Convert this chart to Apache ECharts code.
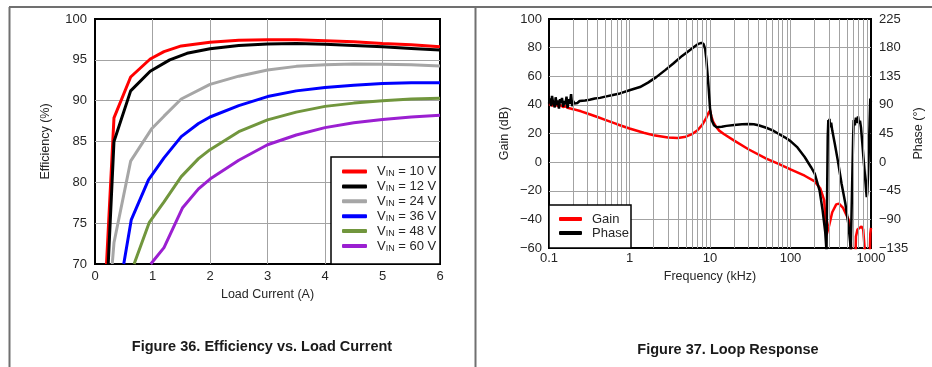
<!DOCTYPE html>
<html>
<head>
<meta charset="utf-8">
<script src="https://cdn.jsdelivr.net/npm/echarts@6/dist/echarts.min.js"></script>
<style>
html,body{margin:0;padding:0;background:#fff;}
#c{width:932px;height:367px;}
</style>
</head>
<body>
<div id="c"></div>
<script>
// ---------- Figure 36: Efficiency vs Load Current ----------
const effXTicks = [0, 1, 2, 3, 4, 5, 6];
const effYTicks = [70, 75, 80, 85, 90, 95, 100];
const vinNames = ['10 V', '12 V', '24 V', '36 V', '48 V', '60 V'];
const vinColors = ['#ff0000', '#000000', '#a6a6a6', '#0000ff', '#71963d', '#9b1fd1'];

const cur10 = [0.20, 0.33, 0.62, 0.96, 1.2, 1.5, 2.0, 2.5, 3.0, 3.5, 4.0, 4.5, 5.0, 5.5, 6.0];
const eff10 = [70, 87.9, 92.9, 95.1, 96.0, 96.7, 97.15, 97.4, 97.45, 97.45, 97.35, 97.2, 97.0, 96.85, 96.6];
const cur12 = [0.23, 0.33, 0.62, 0.96, 1.3, 1.6, 2.0, 2.5, 3.0, 3.5, 4.0, 4.5, 5.0, 5.5, 6.0];
const eff12 = [70, 85.0, 91.2, 93.6, 95.0, 95.8, 96.35, 96.75, 96.95, 97.0, 96.9, 96.75, 96.6, 96.4, 96.2];
const cur24 = [0.30, 0.33, 0.62, 0.99, 1.2, 1.5, 2.0, 2.5, 3.0, 3.5, 4.0, 4.5, 5.0, 5.5, 6.0];
const eff24 = [70, 72.6, 82.6, 86.6, 88.1, 90.2, 92.0, 93.0, 93.75, 94.2, 94.4, 94.5, 94.45, 94.4, 94.25];
const cur36 = [0.50, 0.63, 0.93, 1.2, 1.5, 1.8, 2.0, 2.5, 3.0, 3.5, 4.0, 4.5, 5.0, 5.5, 6.0];
const eff36 = [70, 75.4, 80.3, 83.0, 85.6, 87.2, 88.0, 89.4, 90.5, 91.2, 91.6, 91.9, 92.1, 92.2, 92.2];
const cur48 = [0.68, 0.945, 1.2, 1.5, 1.8, 2.0, 2.5, 3.0, 3.5, 4.0, 4.5, 5.0, 5.5, 6.0];
const eff48 = [70, 75.1, 77.6, 80.7, 82.9, 84.0, 86.2, 87.65, 88.6, 89.3, 89.7, 90.0, 90.2, 90.3];
const cur60 = [0.97, 1.2, 1.52, 1.8, 2.0, 2.5, 3.0, 3.5, 4.0, 4.5, 5.0, 5.5, 6.0];
const eff60 = [70, 72.0, 76.85, 79.2, 80.4, 82.7, 84.6, 85.8, 86.7, 87.3, 87.7, 88.0, 88.2];

// ---------- Figure 37: Loop Response ----------
const freqTicks = [0.1, 1, 10, 100, 1000];
const minorFreqs = [0.2,0.3,0.4,0.5,0.6,0.7,0.8,0.9, 2,3,4,5,6,7,8,9, 20,30,40,50,60,70,80,90, 200,300,400,500,600,700,800,900];
const gainTicks = [-60, -40, -20, 0, 20, 40, 60, 80, 100];
const phaseTicks = [-135, -90, -45, 0, 45, 90, 135, 180, 225];

const gainFreq = [0.1, 0.11, 0.12, 0.13, 0.14, 0.15, 0.16, 0.17, 0.18, 0.2, 0.25, 0.3, 0.4, 0.5, 0.7, 1.0, 1.5, 2, 3, 4, 5, 6, 7, 8, 9, 9.6, 10, 10.4, 11, 12, 13, 15, 20, 30, 50, 70, 100, 150, 200, 235, 262, 280, 300, 330, 370, 400, 450, 520, 550, 575, 640, 650, 680, 720, 760, 800, 840, 860, 960, 980, 1000];
const gainDb = [40.5, 39.5, 40.5, 39, 39.8, 38.5, 39, 38, 38.5, 37, 35.5, 34, 31.5, 29.5, 26.5, 23.5, 20.5, 18.8, 17.2, 16.9, 17.8, 19.6, 22.3, 26, 31, 34.5, 36, 32, 28, 24.5, 22, 19.5, 15, 9, 2.5, -1, -5, -9.5, -13.5, -18.5, -26.5, -51, -45, -35, -29.5, -29, -32, -39.5, -44, -70, -70, -52, -47, -46, -45, -47, -46, -70, -70, -50, -46];

const phaseFreq = [0.100, 0.103, 0.106, 0.109, 0.112, 0.115, 0.118, 0.121, 0.125, 0.129, 0.133, 0.137, 0.141, 0.145, 0.150, 0.155, 0.160, 0.165, 0.170, 0.176, 0.182, 0.188, 0.194, 0.200, 0.207, 0.215, 0.225, 0.24, 0.28, 0.32, 0.37, 0.43, 0.5, 0.6, 0.76, 1.0, 1.35, 1.7, 2.17, 2.8, 3.5, 4.5, 5.6, 6.5, 7.2, 7.8, 8.3, 8.7, 9.0, 9.3, 9.6, 10.0, 10.5, 11.2, 12, 14, 16, 20, 25, 30, 35, 40, 50, 60, 70, 85, 100, 120, 150, 180, 200, 230, 250, 270, 280, 285, 290, 295, 300, 305, 310, 320, 330, 355, 390, 431, 480, 523, 550, 560, 590, 600, 610, 630, 650, 670, 690, 710, 730, 750, 780, 805, 840, 870, 885, 900, 920, 940, 960, 980, 1000];
const phaseDeg = [92, 100, 88, 104, 95, 98, 86, 102, 90, 97, 84, 99, 93, 101, 87, 96, 91, 103, 85, 99, 92, 107, 88, 96, 92, 95, 93, 96, 97, 98, 100, 101, 103, 105, 108, 113, 118, 125, 134, 145, 155, 167, 176, 182, 186, 187.5, 186, 178, 162, 140, 118, 85, 66, 58, 55, 55.5, 57, 58.5, 59.5, 60, 59.5, 58, 54, 50, 45, 39, 33, 24, 8, -8, -18, -45, -75, -110, -140, -140, 40, 66, 60, 68, 55, 62, 50, 29, 0, -34, -65, -97, -125, -140, -140, 40, 66, 58, 70, 62, 72, 60, 65, 55, 30, 8, -20, -45, -55, -48, -18, 20, 60, 100, 95];

const zip = (a, b) => a.map((v, i) => [v, b[i]]);
const minus = v => String(v).replace('-', '\u2212');

const FONT = 'Liberation Sans, Arial, sans-serif';
const TXT = '#262626';
const GRIDC = '#a3a3a3';

const effSeries = [[cur10, eff10], [cur12, eff12], [cur24, eff24], [cur36, eff36], [cur48, eff48], [cur60, eff60]].map((d, i) => ({
  name: vinNames[i], type: 'line', xAxisIndex: 0, yAxisIndex: 0,
  data: zip(d[0], d[1]), symbol: 'none', clip: true, z: 3,
  lineStyle: { color: vinColors[i], width: 3 }, itemStyle: { color: vinColors[i] }
}));

const chart = echarts.init(document.getElementById('c'), null, { renderer: 'canvas' });
chart.setOption({
  animation: false,
  backgroundColor: '#ffffff',
  textStyle: { fontFamily: FONT },
  grid: [
    { left: 95, top: 19, width: 345, height: 245, show: true, borderColor: '#000', borderWidth: 2, backgroundColor: 'transparent' },
    { left: 549, top: 19, width: 322, height: 229, show: true, borderColor: '#000', borderWidth: 2, backgroundColor: 'transparent' }
  ],
  xAxis: [
    { type: 'value', gridIndex: 0, min: effXTicks[0], max: effXTicks[effXTicks.length - 1], interval: 1,
      name: 'Load Current (A)', nameLocation: 'middle', nameGap: 23,
      nameTextStyle: { fontSize: 12.5, color: TXT, fontFamily: FONT },
      axisLine: { show: false }, axisTick: { show: false },
      axisLabel: { fontSize: 13, color: TXT, margin: 6, fontFamily: FONT },
      splitLine: { show: true, showMinLine: false, showMaxLine: false, lineStyle: { color: GRIDC, width: 1 } } },
    { type: 'log', logBase: 10, gridIndex: 1, min: freqTicks[0], max: freqTicks[freqTicks.length - 1],
      name: 'Frequency (kHz)', nameLocation: 'middle', nameGap: 21,
      nameTextStyle: { fontSize: 12.5, color: TXT, fontFamily: FONT },
      axisLine: { show: false }, axisTick: { show: false },
      axisLabel: { fontSize: 13, color: TXT, margin: 4, fontFamily: FONT,
        formatter: v => v < 1 ? Number(v).toFixed(1) : String(Math.round(v)) },
      splitLine: { show: true, showMinLine: false, showMaxLine: false, lineStyle: { color: GRIDC, width: 1 } } }
  ],
  yAxis: [
    { type: 'value', gridIndex: 0, min: effYTicks[0], max: effYTicks[effYTicks.length - 1], interval: 5,
      name: 'Efficiency (%)', nameLocation: 'middle', nameGap: 43,
      nameTextStyle: { fontSize: 12.5, color: TXT, fontFamily: FONT },
      axisLine: { show: false }, axisTick: { show: false },
      axisLabel: { fontSize: 13, color: TXT, margin: 8, fontFamily: FONT },
      splitLine: { show: true, showMinLine: false, showMaxLine: false, lineStyle: { color: GRIDC, width: 1 } } },
    { type: 'value', gridIndex: 1, min: gainTicks[0], max: gainTicks[gainTicks.length - 1], interval: 20,
      name: 'Gain (dB)', nameLocation: 'middle', nameGap: 38,
      nameTextStyle: { fontSize: 12.5, color: TXT, fontFamily: FONT },
      axisLine: { show: false }, axisTick: { show: false },
      axisLabel: { fontSize: 13, color: TXT, margin: 7, fontFamily: FONT, formatter: minus },
      splitLine: { show: true, showMinLine: false, showMaxLine: false, lineStyle: { color: GRIDC, width: 1 } } },
    { type: 'value', gridIndex: 1, position: 'right', min: phaseTicks[0], max: phaseTicks[phaseTicks.length - 1], interval: 45,
      name: 'Phase (°)', nameLocation: 'middle', nameGap: 40,
      nameTextStyle: { fontSize: 12.5, color: TXT, fontFamily: FONT },
      axisLine: { show: false }, axisTick: { show: false },
      axisLabel: { fontSize: 13, color: TXT, margin: 8, fontFamily: FONT, formatter: minus },
      splitLine: { show: false } }
  ],
  legend: [
    { data: vinNames, orient: 'vertical', left: 342, top: 164.5, padding: 0, itemWidth: 25, itemHeight: 4, itemGap: 0.9,
      icon: 'roundRect', z: 20,
      formatter: n => '{a|V}{s|IN}{a| = ' + n + '}',
      textStyle: { padding: [0, 0, 0, 5], color: TXT, fontFamily: FONT,
        rich: { a: { fontSize: 13, lineHeight: 15, color: TXT, fontFamily: FONT },
                s: { fontSize: 9, lineHeight: 15, color: TXT, fontFamily: FONT, padding: [5, 0, 0, 0] } } } },
    { data: ['Gain', 'Phase'], orient: 'vertical', left: 559, top: 212, padding: 0, itemWidth: 23, itemHeight: 4, itemGap: 0,
      icon: 'roundRect', z: 20,
      textStyle: { padding: [0, 0, 0, 5], fontSize: 13, lineHeight: 14, color: TXT, fontFamily: FONT } }
  ],
  series: effSeries.concat([
    { name: 'minor', type: 'line', xAxisIndex: 1, yAxisIndex: 1, data: [], symbol: 'none', z: 1, silent: true,
      markLine: { silent: true, symbol: 'none', label: { show: false }, animation: false,
        lineStyle: { color: GRIDC, width: 1, type: 'solid' },
        data: minorFreqs.map(f => ({ xAxis: f })) } },
    { name: 'Gain', type: 'line', xAxisIndex: 1, yAxisIndex: 1, data: zip(gainFreq, gainDb), symbol: 'none', clip: true, z: 3,
      lineStyle: { color: '#ff0000', width: 2.5 }, itemStyle: { color: '#ff0000' } },
    { name: 'Phase', type: 'line', xAxisIndex: 1, yAxisIndex: 2, data: zip(phaseFreq, phaseDeg), symbol: 'none', clip: true, z: 4,
      lineStyle: { color: '#000000', width: 2.5 }, itemStyle: { color: '#000000' } }
  ]),
  graphic: [
    { type: 'line', shape: { x1: 9, y1: 7, x2: 932, y2: 7 }, style: { stroke: '#707070', lineWidth: 2 }, z: 30 },
    { type: 'line', shape: { x1: 9.5, y1: 7, x2: 9.5, y2: 367 }, style: { stroke: '#707070', lineWidth: 2 }, z: 30 },
    { type: 'line', shape: { x1: 475.5, y1: 7, x2: 475.5, y2: 367 }, style: { stroke: '#707070', lineWidth: 2 }, z: 30 },
    { type: 'rect', shape: { x: 331, y: 157, width: 109, height: 107 }, style: { fill: '#fff', stroke: '#000', lineWidth: 1.5 }, z: 10 },
    { type: 'rect', shape: { x: 549, y: 205, width: 82, height: 43 }, style: { fill: '#fff', stroke: '#000', lineWidth: 1.5 }, z: 10 },
    { type: 'text', x: 262, y: 347, style: { text: 'Figure 36. Efficiency vs. Load Current', font: 'bold 14.5px ' + FONT, fill: '#1a1a1a', textAlign: 'center', textVerticalAlign: 'middle' }, z: 30 },
    { type: 'text', x: 728, y: 350, style: { text: 'Figure 37. Loop Response', font: 'bold 14.5px ' + FONT, fill: '#1a1a1a', textAlign: 'center', textVerticalAlign: 'middle' }, z: 30 }
  ]
});
</script>
</body>
</html>
